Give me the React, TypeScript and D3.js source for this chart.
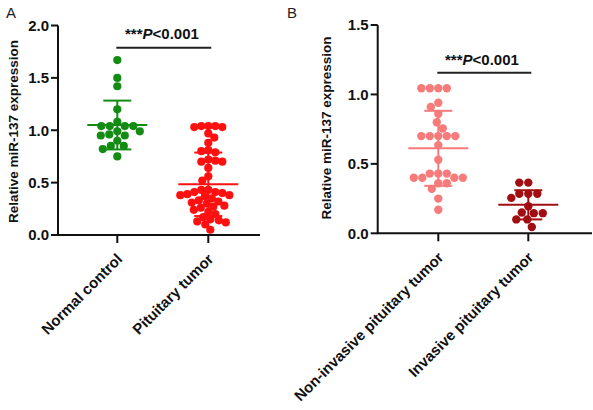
import React from 'react';
import * as d3 from 'd3';

// ---------- Data ----------
const categoriesA = ['Normal control', 'Pituitary tumor'];
const normalControl = [
  1.67, 1.5, 1.42, 1.2, 1.08, 1.04, 1.04, 1.04, 1.04, 0.99, 0.99, 0.96, 0.95, 0.95,
  0.9, 0.85, 0.85, 0.82, 0.75,
];
const pituitaryTumor = [
  1.04, 1.04, 1.03, 1.03, 1.04, 0.97, 0.93, 0.88, 0.81, 0.8, 0.79, 0.72, 0.71, 0.7,
  0.7, 0.64, 0.56, 0.52, 0.43, 0.43, 0.41, 0.41, 0.4, 0.39, 0.38, 0.38, 0.37, 0.35,
  0.33, 0.32, 0.31, 0.3, 0.28, 0.27, 0.26, 0.24, 0.22, 0.2, 0.17, 0.15, 0.14, 0.13,
  0.12, 0.1, 0.05,
];
const meansA = [1.05, 0.484];
const sdsA = [0.233, 0.303];
const ticksA = [0, 0.5, 1.0, 1.5, 2.0];

const categoriesB = ['Non-invasive pituitary tumor', 'Invasive pituitary tumor'];
const nonInvasive = [
  1.045, 1.045, 1.045, 1.045, 0.94, 0.91, 0.86, 0.8, 0.755, 0.7, 0.7, 0.7, 0.7, 0.7,
  0.635, 0.53, 0.43, 0.43, 0.43, 0.4, 0.4, 0.4, 0.4, 0.36, 0.36, 0.32, 0.25, 0.17,
];
const invasive = [
  0.365, 0.365, 0.285, 0.285, 0.285, 0.255, 0.195, 0.145, 0.145, 0.15, 0.1, 0.1, 0.045,
];
const meansB = [0.612, 0.205];
const sdsB = [0.27, 0.105];
const ticksB = [0, 0.5, 1.0, 1.5];

const yTitle = 'Relative miR-137 expression';
const pStars = '***';
const pP = 'P';
const pRest = '<0.001';

// ---------- Styles ----------
const FONT = "'Liberation Sans', Arial, Helvetica, sans-serif";
const colorsA = ['#148c14', '#ff1010'];
const colorsB = ['#f77b7b', '#a10d10'];

type Pt = { dx: number; y: number };

function swarm(values: number[], y: (v: number) => number, r: number, factor: number): Pt[] {
  const order = values.map((_, i) => i).sort((a, b) => values[b] - values[a]);
  const placed: { x: number; y: number }[] = [];
  const out: Pt[] = new Array(values.length);
  const md = 2 * r * factor;
  order.forEach((i, n) => {
    const py = y(values[i]);
    let best = 0;
    for (let k = 0; k < 400; k++) {
      const mag = k * 0.5;
      const cands = n % 2 === 0 ? [mag, -mag] : [-mag, mag];
      let found: number | null = null;
      for (const c of cands) {
        if (placed.every((p) => (p.x - c) ** 2 + (p.y - py) ** 2 >= md * md - 1e-6)) {
          found = c;
          break;
        }
      }
      if (found !== null) {
        best = found;
        break;
      }
    }
    placed.push({ x: best, y: py });
    out[i] = { dx: best, y: py };
  });
  return out;
}

type PanelProps = {
  letter: string;
  letterX: number;
  yMax: number;
  yTop: number;
  yBottom: number;
  axisX: number;
  axisXEnd: number;
  catRange: [number, number];
  cats: string[];
  groups: number[][];
  colors: string[];
  spread: number[];
  means: number[];
  sds: number[];
  ticks: number[];
  yLabelX: number;
  yLabelY: number;
  pX: number;
  pY: number;
  barY: number;
  r: number;
};

function Panel(p: PanelProps) {
  const y = d3.scaleLinear().domain([0, p.yMax]).range([p.yBottom, p.yTop]);
  const x = d3.scalePoint<string>().domain(p.cats).range(p.catRange);
  const meanHalf = 30;
  const capHalf = 14;
  return (
    <g fontFamily={FONT}>
      <text x={p.letterX} y={18} fontSize={15} fill="#222">
        {p.letter}
      </text>
      {/* y axis */}
      <line x1={p.axisX} x2={p.axisX} y1={y(p.yMax)} y2={p.yBottom} stroke="#111" strokeWidth={2} />
      {p.ticks.map((t) => (
        <g key={t}>
          <line x1={p.axisX - 7} x2={p.axisX} y1={y(t)} y2={y(t)} stroke="#111" strokeWidth={2} />
          <text
            x={p.axisX - 9}
            y={y(t)}
            dy="0.36em"
            textAnchor="end"
            fontSize={15}
            fontWeight="bold"
            fill="#111"
          >
            {t.toFixed(1)}
          </text>
        </g>
      ))}
      <text
        transform={`translate(${p.yLabelX},${p.yLabelY}) rotate(-90)`}
        textAnchor="middle"
        dy="0.36em"
        fontSize={13.5}
        fontWeight="bold"
        fill="#111"
      >
        {yTitle}
      </text>
      {/* x axis */}
      <line x1={p.axisX - 1} x2={p.axisXEnd} y1={p.yBottom} y2={p.yBottom} stroke="#111" strokeWidth={2} />
      {p.cats.map((c) => (
        <g key={c}>
          <line x1={x(c)!} x2={x(c)!} y1={p.yBottom} y2={p.yBottom + 8} stroke="#111" strokeWidth={2} />
          <text
            transform={`translate(${x(c)! + 6},${p.yBottom + 25}) rotate(-45)`}
            textAnchor="end"
            fontSize={15}
            fontWeight="bold"
            fill="#111"
          >
            {c}
          </text>
        </g>
      ))}
      {/* points */}
      {p.groups.map((vals, gi) => {
        const cx = x(p.cats[gi])!;
        const pts = swarm(vals, y, p.r, p.spread[gi]);
        return (
          <g key={gi} fill={p.colors[gi]}>
            {pts.map((pt, i) => (
              <circle key={i} cx={cx + pt.dx} cy={pt.y} r={p.r} />
            ))}
          </g>
        );
      })}
      {/* mean and SD */}
      {p.groups.map((_, gi) => {
        const cx = x(p.cats[gi])!;
        const m = p.means[gi];
        const s = p.sds[gi];
        const col = p.colors[gi];
        return (
          <g key={gi} stroke={col} strokeWidth={2}>
            <line x1={cx - meanHalf} x2={cx + meanHalf} y1={y(m)} y2={y(m)} />
            <line x1={cx} x2={cx} y1={y(m - s)} y2={y(m + s)} />
            <line x1={cx - capHalf} x2={cx + capHalf} y1={y(m + s)} y2={y(m + s)} />
            <line x1={cx - capHalf} x2={cx + capHalf} y1={y(m - s)} y2={y(m - s)} />
          </g>
        );
      })}
      {/* significance */}
      <line
        x1={x(p.cats[0])! - 1}
        x2={x(p.cats[1])! + 3}
        y1={p.barY}
        y2={p.barY}
        stroke="#222"
        strokeWidth={2}
      />
      <text x={p.pX} y={p.pY} fontSize={15} fontWeight="bold" fill="#111">
        <tspan>{pStars}</tspan>
        <tspan fontStyle="italic">{pP}</tspan>
        <tspan>{pRest}</tspan>
      </text>
    </g>
  );
}

export default function App() {
  return (
    <div style={{ position: 'absolute', left: 0, top: 0 }}>
      <svg width={593} height={410} style={{ display: 'block', background: '#fff' }}>
        <rect width={593} height={410} fill="#fff" />
        <Panel
          letter="A"
          letterX={6}
          yMax={2}
          yTop={25.5}
          yBottom={235}
          axisX={58}
          axisXEnd={260}
          catRange={[117.3, 208.3]}
          cats={categoriesA}
          groups={[normalControl, pituitaryTumor]}
          colors={colorsA}
          spread={[1.0, 0.85]}
          means={meansA}
          sds={sdsA}
          ticks={ticksA}
          yLabelX={13.5}
          yLabelY={131.5}
          pX={125}
          pY={39.3}
          barY={47.7}
          r={4.1}
        />
        <Panel
          letter="B"
          letterX={287}
          yMax={1.5}
          yTop={25}
          yBottom={233.3}
          axisX={377.7}
          axisXEnd={592}
          catRange={[438.3, 528.3]}
          cats={categoriesB}
          groups={[nonInvasive, invasive]}
          colors={colorsB}
          spread={[1.0, 1.05]}
          means={meansB}
          sds={sdsB}
          ticks={ticksB}
          yLabelX={326.5}
          yLabelY={128}
          pX={445}
          pY={65}
          barY={72.7}
          r={4.2}
        />
      </svg>
    </div>
  );
}
